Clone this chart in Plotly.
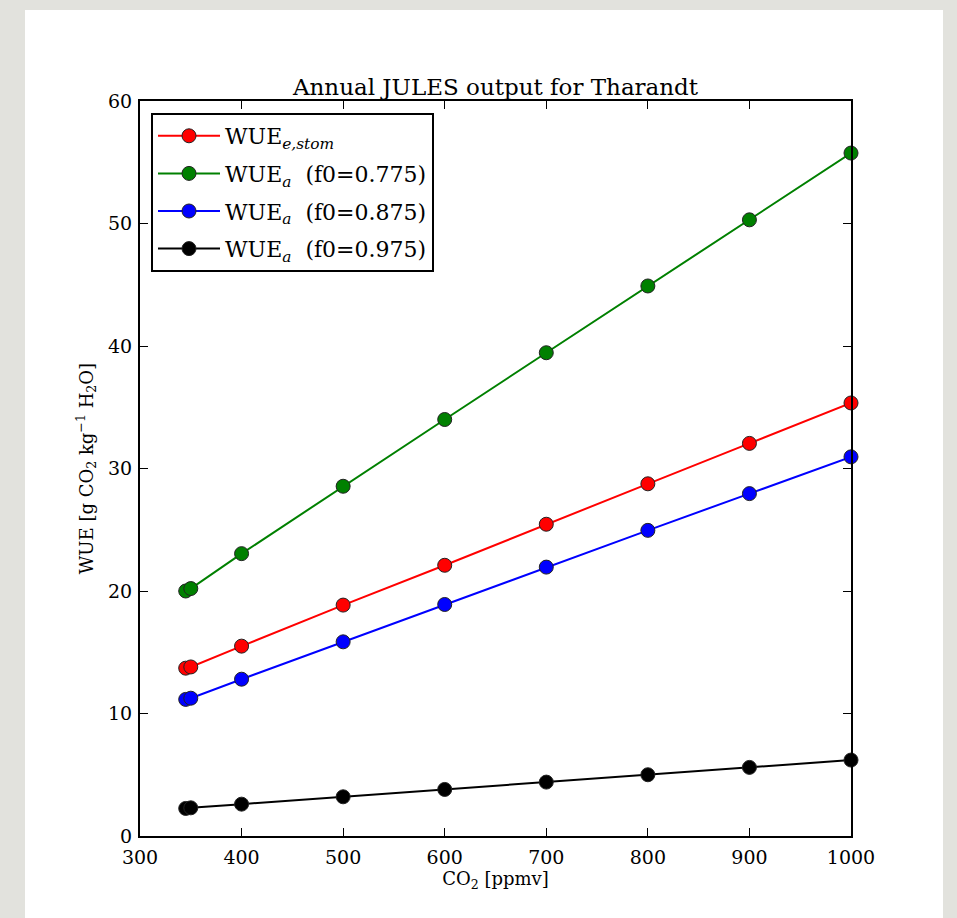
import plotly.graph_objects as go

# CO2 concentrations (ppmv) of the annual JULES runs
co2 = [345, 350, 400, 500, 600, 700, 800, 900, 1000]

# Water-use efficiency [g CO2 kg-1 H2O]
wue_e_stom = [13.7, 13.8, 15.5, 18.85, 22.1, 25.45, 28.75, 32.05, 35.35]
wue_a_0775 = [20.0, 20.2, 23.05, 28.55, 34.0, 39.45, 44.9, 50.3, 55.75]
wue_a_0875 = [11.15, 11.25, 12.8, 15.85, 18.9, 21.95, 24.95, 27.95, 30.95]
wue_a_0975 = [2.25, 2.3, 2.6, 3.2, 3.8, 4.4, 5.0, 5.6, 6.2]

series = [
    ("WUE<sub><i>e,stom</i></sub>", wue_e_stom, "#ff0000"),
    ("WUE<sub><i>a</i></sub>  (f0=0.775)", wue_a_0775, "#008000"),
    ("WUE<sub><i>a</i></sub>  (f0=0.875)", wue_a_0875, "#0000ff"),
    ("WUE<sub><i>a</i></sub>  (f0=0.975)", wue_a_0975, "#000000"),
]

x_ticks = [300, 400, 500, 600, 700, 800, 900, 1000]
y_ticks = [0, 10, 20, 30, 40, 50, 60]

SERIF = "DejaVu Serif"

fig = go.Figure()
for i, (name, vals, col) in enumerate(series):
    fig.add_trace(go.Scatter(
        x=co2, y=vals, name=name, mode="lines+markers",
        legendgroup=f"g{i}",
        line=dict(color=col, width=2),
        marker=dict(size=14, color=col, line=dict(color="#222222", width=1)),
        cliponaxis=False,
    ))

W, H = 957, 918
L, R, T, B = 140, 106, 101, 82
pw, ph = W - L - R, H - T - B

def px_x(p):
    return (p - L) / pw

def px_y(p):
    return (H - B - p) / ph

# white card behind the axes
fig.add_shape(type="rect", xref="paper", yref="paper",
              x0=px_x(25), x1=px_x(943), y0=px_y(918), y1=px_y(10),
              fillcolor="white", line=dict(width=0), layer="below")

axis_common = dict(
    showgrid=False, zeroline=False, ticks="inside", ticklen=8, tickwidth=1,
    tickcolor="black", mirror="ticks", showline=True, linecolor="black",
    linewidth=2, tickfont=dict(family=SERIF, size=19, color="black"),
)

fig.update_layout(
    width=W, height=H,
    margin=dict(l=L, r=R, t=T, b=B),
    paper_bgcolor="#e2e2dd",
    plot_bgcolor="white",
    title=dict(text="Annual JULES output for Tharandt", x=0.5, xanchor="center",
               xref="paper", yref="paper", y=1, yanchor="bottom",
               pad=dict(b=6),
               font=dict(family=SERIF, size=23, color="black")),
    xaxis=dict(range=[300, 1000], tickvals=x_ticks, ticklabelstandoff=3,
               title=dict(text="CO<sub>2</sub> [ppmv]", standoff=2,
                          font=dict(family=SERIF, size=18, color="black")),
               **axis_common),
    yaxis=dict(range=[0, 60], tickvals=y_ticks, ticklabelstandoff=2,
               title=dict(text="WUE [g CO<sub>2</sub> kg<sup>\u22121</sup> H<sub>2</sub>O]",
                          standoff=10,
                          font=dict(family=SERIF, size=18, color="black")),
               **axis_common),
    legend=dict(x=px_x(151), y=px_y(113), xanchor="left", yanchor="top",
                bgcolor="white", bordercolor="black", borderwidth=2,
                font=dict(family=SERIF, size=22, color="black"),
                itemwidth=62, tracegroupgap=6),
    showlegend=True,
)

fig.write_html("out.html")
